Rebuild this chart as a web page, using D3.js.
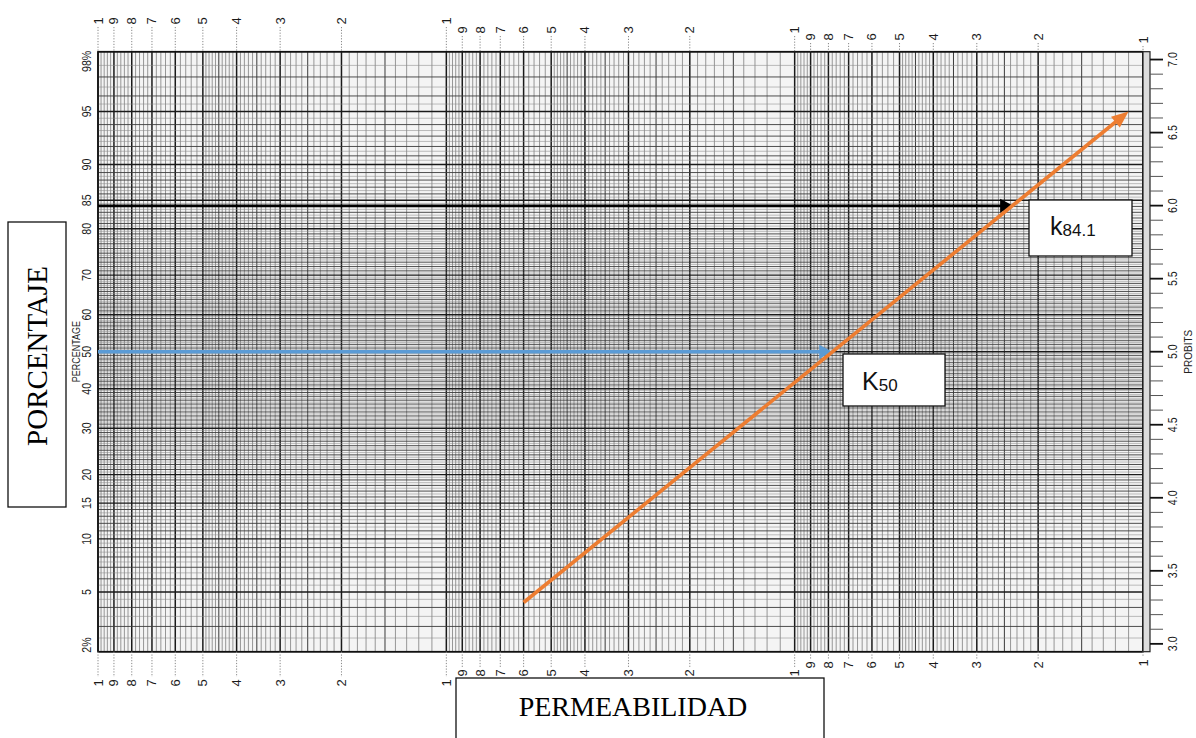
<!DOCTYPE html>
<html>
<head>
<meta charset="utf-8">
<script src="https://cdn.jsdelivr.net/npm/d3@7"></script>
<style>
  body { margin: 0; background: #fff; }
  svg { display: block; }
</style>
</head>
<body>
<svg id="chart" width="1196" height="738"></svg>
<script>
// ---- values ----
const percentTicks = [2, 5, 10, 15, 20, 30, 40, 50, 60, 70, 80, 85, 90, 95, 98];
const probitTicks = [3.0, 3.5, 4.0, 4.5, 5.0, 5.5, 6.0, 6.5, 7.0];
const cycleStarts = [100, 10, 1];            // lower bound of each log cycle, left to right
const cycleDigits = [9, 8, 7, 6, 5, 4, 3, 2]; // printed digits inside each cycle
const trend = [{k: 60, pct: 4.3}, {k: 1.1, pct: 95}];
const guides = [
  {name: "K", sub: "50",   pct: 50,   k: 7.8,  color: "#5b9bd5"},
  {name: "k", sub: "84.1", pct: 84.1, k: 2.36, color: "#000000"}
];

// ---- inverse normal (Acklam) ----
function invNorm(p) {
  const a = [-3.969683028665376e+01, 2.209460984245205e+02, -2.759285104469687e+02, 1.383577518672690e+02, -3.066479806614716e+01, 2.506628277459239e+00];
  const b = [-5.447609879822406e+01, 1.615858368580409e+02, -1.556989798598866e+02, 6.680131188771972e+01, -1.328068155288572e+01];
  const c = [-7.784894002430293e-03, -3.223964580411365e-01, -2.400758277161838e+00, -2.549671010243133e+00, 4.374664141464968e+00, 2.938163982698783e+00];
  const d = [7.784695709041462e-03, 3.224671290700398e-01, 2.445134137142996e+00, 3.754408661907416e+00];
  const pl = 0.02425, ph = 1 - pl;
  let q, r;
  if (p < pl) {
    q = Math.sqrt(-2 * Math.log(p));
    return (((((c[0]*q+c[1])*q+c[2])*q+c[3])*q+c[4])*q+c[5]) / ((((d[0]*q+d[1])*q+d[2])*q+d[3])*q+1);
  }
  if (p <= ph) {
    q = p - 0.5; r = q * q;
    return (((((a[0]*r+a[1])*r+a[2])*r+a[3])*r+a[4])*r+a[5])*q / (((((b[0]*r+b[1])*r+b[2])*r+b[3])*r+b[4])*r+1);
  }
  q = Math.sqrt(-2 * Math.log(1 - p));
  return -(((((c[0]*q+c[1])*q+c[2])*q+c[3])*q+c[4])*q+c[5]) / ((((d[0]*q+d[1])*q+d[2])*q+d[3])*q+1);
}

// ---- geometry & scales ----
const L = 98, R = 1143, T = 51.7, B = 651.7;
const svg = d3.select("#chart");
svg.append("rect").attr("width", 1196).attr("height", 738).attr("fill", "#fff");

const x = d3.scaleLog().domain([1000, 1]).range([L, R]);
const yProbit = d3.scaleLinear()
  .domain([5 + invNorm(0.02), 5 + invNorm(0.98)])
  .range([B, T]);
const yPct = pct => yProbit(5 + invNorm(pct / 100));

const sans = "'Liberation Sans', Arial, sans-serif";
const serif = "'Liberation Serif', 'Times New Roman', serif";

// paper
svg.append("rect").attr("x", L).attr("y", T).attr("width", R - L).attr("height", B - T)
  .attr("fill", "#f4f4f4");

// ---- vertical log grid ----
const vLines = [];
cycleStarts.forEach(s => {
  const ms = [].concat(d3.range(1, 2, 0.1), d3.range(2, 5, 0.1), d3.range(5, 10.001, 0.2))
    .map(m => Math.round(m * 10) / 10);
  ms.forEach(m => {
    if (m === 10 && s !== 100) return;
    let cls = "minor";
    if (Number.isInteger(m)) cls = "major";
    else if (m < 5 && Math.abs(m * 2 - Math.round(m * 2)) < 1e-9) cls = "mid";
    vLines.push({v: m * s, cls});
  });
});
const vStyle = {
  major: {c: "#1a1a1a", w: 1.5},
  mid:   {c: "#3a3a3a", w: 1.0},
  minor: {c: "#6e6e6e", w: 0.7}
};
const hStyle = {
  major: {c: "#1a1a1a", w: 1.4},
  mid:   {c: "#3c3c3c", w: 0.9},
  minor: {c: "#8a8a8a", w: 0.55}
};
const gGrid = svg.append("g");
gGrid.selectAll("line.v").data(vLines.sort((a, b) => (a.cls === "major") - (b.cls === "major"))).join("line")
  .attr("class", "v")
  .attr("x1", d => x(d.v)).attr("x2", d => x(d.v))
  .attr("y1", T).attr("y2", B)
  .attr("stroke", d => vStyle[d.cls].c).attr("stroke-width", d => vStyle[d.cls].w);

// ---- horizontal probability grid ----
const hLines = d3.range(2, 98.001, 0.5).map(p => {
  const v = Math.round(p * 10) / 10;
  let cls = "minor";
  if (percentTicks.includes(v)) cls = "major";
  else if (Number.isInteger(v)) cls = "mid";
  return {p: v, cls};
}).sort((a, b) => (a.cls === "major") - (b.cls === "major"));
gGrid.selectAll("line.h").data(hLines).join("line")
  .attr("class", "h")
  .attr("x1", L).attr("x2", R)
  .attr("y1", d => yPct(d.p)).attr("y2", d => yPct(d.p))
  .attr("stroke", d => hStyle[d.cls].c).attr("stroke-width", d => hStyle[d.cls].w);

// border
svg.append("rect").attr("x", L).attr("y", T).attr("width", R - L).attr("height", B - T)
  .attr("fill", "none").attr("stroke", "#111").attr("stroke-width", 1.6);

// ---- probit strip on the right ----
svg.append("rect").attr("x", R).attr("y", T).attr("width", 7).attr("height", B - T)
  .attr("fill", "#dcdcdc").attr("stroke", "#222").attr("stroke-width", 1.2);
const probitMinor = d3.range(30, 70.5, 1).map(v => v / 10);
const isMajorProbit = d => probitTicks.some(t => Math.abs(t - d) < 1e-9);
svg.append("g").selectAll("line").data(probitMinor).join("line")
  .attr("x1", R + 7).attr("x2", R + 20)
  .attr("y1", d => yProbit(d)).attr("y2", d => yProbit(d))
  .attr("stroke", d => isMajorProbit(d) ? "#111" : "#555")
  .attr("stroke-width", d => isMajorProbit(d) ? 1.8 : 1.0);
svg.append("g").selectAll("text").data(probitTicks).join("text")
  .attr("transform", d => `translate(1173,${yProbit(d)}) rotate(-90) scale(0.82,1)`)
  .attr("text-anchor", "middle").attr("dominant-baseline", "central")
  .attr("font-family", sans).attr("font-size", 13).attr("fill", "#1a1a1a")
  .text(d => d.toFixed(1));
svg.append("text")
  .attr("transform", `translate(1188,${yProbit(5)}) rotate(-90)`)
  .attr("text-anchor", "middle").attr("dominant-baseline", "central")
  .attr("font-family", sans).attr("font-size", 10).attr("fill", "#222")
  .text("PROBITS");

// ---- percentage labels on the left ----
svg.append("g").selectAll("text").data(percentTicks).join("text")
  .attr("transform", d => `translate(87,${d === 98 ? T - 1 : d === 2 ? B + 1 : yPct(d)}) rotate(-90) scale(0.82,1)`)
  .attr("text-anchor", d => d === 98 ? "end" : d === 2 ? "start" : "middle")
  .attr("dominant-baseline", "central")
  .attr("font-family", sans).attr("font-size", 13).attr("fill", "#1a1a1a")
  .text(d => (d === 2 || d === 98) ? d + "%" : d);
svg.append("text")
  .attr("transform", `translate(76,${yPct(50)}) rotate(-90) scale(0.9,1)`)
  .attr("text-anchor", "middle").attr("dominant-baseline", "central")
  .attr("font-family", sans).attr("font-size", 10).attr("fill", "#222")
  .text("PERCENTAGE");

// ---- cycle digits top & bottom ----
const topRow = [21, 30, 37], botRow = [683, 673, 665];
const edgeTop = [21, 21, 30, 40], edgeBot = [683, 683, 673, 663];
const cycleLabels = [];
cycleStarts.forEach((s, ci) => {
  cycleLabels.push({v: s * 10, txt: "1", top: edgeTop[ci], bot: edgeBot[ci]});
  cycleDigits.forEach(dg => cycleLabels.push({v: dg * s, txt: String(dg), top: topRow[ci], bot: botRow[ci]}));
});
cycleLabels.push({v: 1, txt: "1", top: edgeTop[3], bot: edgeBot[3]});

const gLab = svg.append("g");
gLab.selectAll("line.tt").data(cycleLabels).join("line")
  .attr("x1", d => x(d.v)).attr("x2", d => x(d.v))
  .attr("y1", d => d.top + 6).attr("y2", T)
  .attr("stroke", "#888").attr("stroke-width", 1).attr("stroke-dasharray", "1.2,1.6");
gLab.selectAll("line.bb").data(cycleLabels).join("line")
  .attr("x1", d => x(d.v)).attr("x2", d => x(d.v))
  .attr("y1", B).attr("y2", d => d.bot - 6)
  .attr("stroke", "#888").attr("stroke-width", 1).attr("stroke-dasharray", "1.2,1.6");
gLab.selectAll("text.t").data(cycleLabels).join("text")
  .attr("transform", d => `translate(${x(d.v)},${d.top}) rotate(-90)`)
  .attr("text-anchor", "middle").attr("dominant-baseline", "central")
  .attr("font-family", sans).attr("font-size", 13).attr("fill", "#1a1a1a")
  .text(d => d.txt);
gLab.selectAll("text.b").data(cycleLabels).join("text")
  .attr("transform", d => `translate(${x(d.v)},${d.bot}) rotate(-90)`)
  .attr("text-anchor", "middle").attr("dominant-baseline", "central")
  .attr("font-family", sans).attr("font-size", 13).attr("fill", "#1a1a1a")
  .text(d => d.txt);

// ---- arrows ----
function arrow(p0, p1, color, width, headLen, headW) {
  const dx = p1[0] - p0[0], dy = p1[1] - p0[1];
  const len = Math.hypot(dx, dy), ux = dx / len, uy = dy / len;
  const bx = p1[0] - ux * headLen, by = p1[1] - uy * headLen;
  svg.append("line")
    .attr("x1", p0[0]).attr("y1", p0[1]).attr("x2", bx + ux * 1).attr("y2", by + uy * 1)
    .attr("stroke", color).attr("stroke-width", width);
  const nx = -uy, ny = ux;
  svg.append("path")
    .attr("d", `M${p1[0]},${p1[1]}L${bx + nx * headW / 2},${by + ny * headW / 2}L${bx - nx * headW / 2},${by - ny * headW / 2}Z`)
    .attr("fill", color);
}
const pt = d => [x(d.k), yPct(d.pct)];
// horizontal guides from the left edge to the fitted line
guides.forEach(g => {
  arrow(pt({k: x.domain()[0], pct: g.pct}), pt(g), g.color, g.color === "#000000" ? 2.8 : 3.6, 13, 14);
});
// fitted distribution line
arrow(pt(trend[0]), pt(trend[1]), "#ed7d31", 3.6, 17, 14);

// ---- value boxes ----
function valueBox(x0, y0, w, h, main, sub, tx, ty) {
  svg.append("rect").attr("x", x0).attr("y", y0).attr("width", w).attr("height", h)
    .attr("fill", "#fff").attr("stroke", "#111").attr("stroke-width", 1.3);
  const t = svg.append("text").attr("x", tx).attr("y", ty)
    .attr("font-family", sans).attr("font-size", 25).attr("fill", "#111");
  t.append("tspan").text(main);
  t.append("tspan").attr("font-size", 17).attr("dy", 1).text(sub);
}
valueBox(1029, 200, 103, 56, guides[1].name, guides[1].sub, 1050, 235);
valueBox(843, 354, 102, 52, guides[0].name, guides[0].sub, 862, 390);

// ---- axis title boxes ----
svg.append("rect").attr("x", 8).attr("y", 222).attr("width", 58).attr("height", 285)
  .attr("fill", "#fff").attr("stroke", "#111").attr("stroke-width", 1.3);
svg.append("text")
  .attr("transform", "translate(37,356) rotate(-90)")
  .attr("text-anchor", "middle").attr("dominant-baseline", "central")
  .attr("font-family", serif).attr("font-size", 29).attr("fill", "#000")
  .text("PORCENTAJE");

svg.append("rect").attr("x", 456).attr("y", 678).attr("width", 368).attr("height", 80)
  .attr("fill", "#fff").attr("stroke", "#111").attr("stroke-width", 1.3);
svg.append("text").attr("x", 633).attr("y", 716)
  .attr("text-anchor", "middle")
  .attr("font-family", serif).attr("font-size", 28).attr("fill", "#000")
  .text("PERMEABILIDAD");
</script>
</body>
</html>
